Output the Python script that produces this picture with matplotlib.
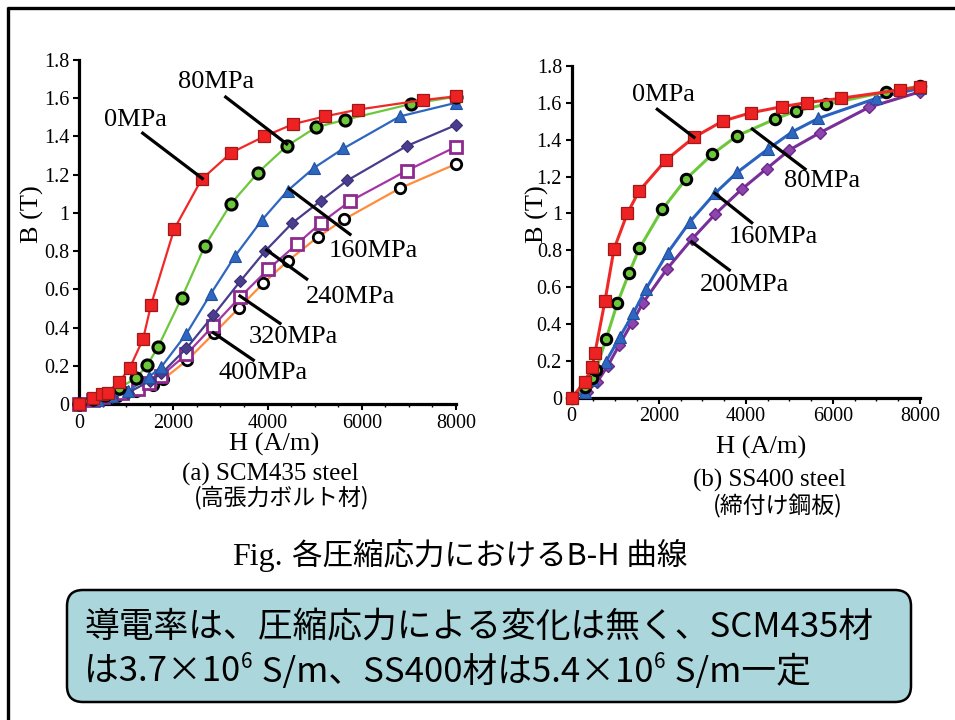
import matplotlib
matplotlib.use("Agg")
import matplotlib.pyplot as plt
from matplotlib.patches import FancyBboxPatch
from matplotlib.ticker import FuncFormatter, MultipleLocator

# ---------------- data: (a) SCM435 steel ----------------
a_h_0 = [0, 300, 490, 615, 850, 1080, 1360, 1530, 2020, 2600, 3230, 3930, 4550, 5220, 5910, 7290, 8000]
a_b_0 = [0, 0.03, 0.05, 0.06, 0.115, 0.19, 0.34, 0.52, 0.915, 1.175, 1.315, 1.40, 1.465, 1.505, 1.54, 1.59, 1.61]
a_h_80 = [0, 300, 550, 850, 1210, 1450, 1680, 2180, 2670, 3225, 3800, 4410, 5030, 5645, 7045, 8000]
a_b_80 = [0, 0.025, 0.045, 0.085, 0.134, 0.204, 0.30, 0.556, 0.827, 1.048, 1.211, 1.350, 1.448, 1.487, 1.57, 1.608]
a_h_160 = [0, 400, 700, 1050, 1490, 1750, 2270, 2800, 3310, 3880, 4430, 4990, 5610, 6810, 8000]
a_b_160 = [0, 0.02, 0.04, 0.07, 0.143, 0.195, 0.364, 0.578, 0.774, 0.962, 1.117, 1.236, 1.337, 1.505, 1.576]
a_h_240 = [0, 400, 700, 1050, 1500, 1750, 2280, 2850, 3420, 3950, 4530, 5135, 5695, 6955, 8000]
a_b_240 = [0, 0.02, 0.035, 0.06, 0.12, 0.16, 0.291, 0.464, 0.642, 0.80, 0.948, 1.064, 1.17, 1.35, 1.46]
a_h_320 = [0, 300, 515, 620, 920, 1260, 1490, 1740, 2280, 2850, 3420, 4020, 4630, 5135, 5750, 6955, 8000]
a_b_320 = [0, 0.02, 0.035, 0.045, 0.06, 0.078, 0.11, 0.146, 0.26, 0.41, 0.56, 0.706, 0.838, 0.948, 1.061, 1.221, 1.346]
a_h_400 = [0, 400, 800, 1200, 1560, 1790, 2300, 2865, 3400, 3910, 4440, 5080, 5630, 6810, 8000]
a_b_400 = [0, 0.02, 0.04, 0.07, 0.10, 0.13, 0.23, 0.37, 0.504, 0.632, 0.75, 0.876, 0.967, 1.129, 1.256]

# ---------------- data: (b) SS400 steel ----------------
b_h_0 = [0, 306, 473, 535, 765, 972, 1277, 1546, 2166, 2809, 3468, 4111, 4822, 5397, 6185, 7540, 8000]
b_b_0 = [0, 0.087, 0.168, 0.244, 0.526, 0.807, 1.0, 1.121, 1.29, 1.413, 1.501, 1.546, 1.579, 1.601, 1.625, 1.67, 1.687]
b_h_80 = [0, 306, 459, 558, 788, 1047, 1316, 1553, 2081, 2618, 3229, 3789, 4669, 5151, 5833, 7229, 8000]
b_b_80 = [0, 0.06, 0.105, 0.15, 0.317, 0.512, 0.675, 0.81, 1.022, 1.185, 1.321, 1.42, 1.512, 1.556, 1.592, 1.66, 1.69]
b_h_160 = [0, 306, 497, 788, 1110, 1416, 1700, 2205, 2717, 3291, 3803, 4501, 5068, 5666, 7000, 8000]
b_b_160 = [0, 0.033, 0.096, 0.196, 0.331, 0.458, 0.588, 0.787, 0.955, 1.109, 1.223, 1.348, 1.443, 1.516, 1.625, 1.679]
b_h_200 = [0, 344, 589, 826, 1093, 1378, 1631, 2182, 2756, 3291, 3904, 4478, 4999, 5702, 6829, 8000]
b_b_200 = [0, 0.033, 0.087, 0.172, 0.286, 0.404, 0.512, 0.697, 0.859, 0.995, 1.131, 1.243, 1.344, 1.438, 1.576, 1.660]

# annotation labels (text, text position, leader line start, leader line end) in data units
a_labels = ["0MPa", "80MPa", "160MPa", "240MPa", "320MPa", "400MPa"]
a_label_xy = [(1188, 1.487), (2907, 1.687), (6245, 0.801), (5751, 0.562), (4548, 0.352), (3911, 0.161)]
a_lead_from = [(1352, 1.417), (3113, 1.606), (5751, 0.888), (4832, 0.654), (4265, 0.422), (3699, 0.23)]
a_lead_to = [(2617, 1.18), (4407, 1.361), (4463, 1.126), (3983, 0.806), (3416, 0.565), (2850, 0.373)]
b_labels = ["0MPa", "80MPa", "160MPa", "200MPa"]
b_label_xy = [(2104, 1.642), (5742, 1.176), (4630, 0.874), (3958, 0.611)]
b_lead_from = [(1966, 1.565), (5359, 1.241), (4134, 0.95), (3620, 0.693)]
b_lead_to = [(2809, 1.413), (4148, 1.458), (3291, 1.109), (2756, 0.846)]

x_ticks = [0, 2000, 4000, 6000, 8000]
y_ticks = [0, 0.2, 0.4, 0.6, 0.8, 1.0, 1.2, 1.4, 1.6, 1.8]

box_line1 = "導電率は、圧縮応力による変化は無く、SCM435材"
# second line as (text, is_superscript) pieces
box_line2 = [("は3.7×10", False), ("6", True), (" S/m、SS400材は5.4×10", False), ("6", True), (" S/m一定", False)]

SERIF = "Liberation Serif"
JP = ["Noto Sans CJK JP", "DejaVu Sans"]

W, H = 955, 720
fig = plt.figure(figsize=(W / 100, H / 100), dpi=100)
fig.patch.set_facecolor("white")

# overlay in pixel units for figure-level drawing
ov = fig.add_axes([0, 0, 1, 1], zorder=0)
ov.set_xlim(0, W)
ov.set_ylim(H, 0)
ov.axis("off")
ov.patch.set_alpha(0)


def style_axes(ax):
    ax.set_xlim(0, 8000)
    ax.set_ylim(0, 1.8)
    for s in ["top", "right"]:
        ax.spines[s].set_visible(False)
    for s in ["left", "bottom"]:
        ax.spines[s].set_linewidth(2.3)
    ax.set_xticks(x_ticks)
    ax.set_yticks(y_ticks)
    ax.xaxis.set_minor_locator(MultipleLocator(500))
    ax.yaxis.set_major_formatter(FuncFormatter(lambda v, p: "%g" % round(v, 1)))
    ax.tick_params(axis="both", which="major", direction="out", length=4, width=1.5,
                   labelsize=14.5, pad=3)
    ax.tick_params(axis="x", which="minor", direction="out", length=2.5, width=1)
    for lab in ax.get_xticklabels() + ax.get_yticklabels():
        lab.set_fontfamily(SERIF)
    ax.patch.set_alpha(0)


axL = fig.add_axes([79 / W, 1 - 404 / H, 377 / W, 344 / H], zorder=2)
axR = fig.add_axes([571.7 / W, 1 - 397.7 / H, 348.3 / W, 331.7 / H], zorder=2)
style_axes(axL)
style_axes(axR)

# ---- left chart series ----
kw = dict(clip_on=False, zorder=3)
axL.plot(a_h_400, a_b_400, color="#FF8C3A", lw=1.6, marker="o", ms=7.5, mfc="white", mec="black", mew=2.0, **kw)
axL.plot(a_h_320, a_b_320, color="#A535A5", lw=1.6, marker="s", ms=8, mfc="white", mec="#8E2A8E", mew=2.0, **kw)
axL.plot(a_h_240, a_b_240, color="#483C8C", lw=1.6, marker="D", ms=6.5, mfc="#4A3D8E", mec="#3A2F75", mew=0.8, **kw)
axL.plot(a_h_160, a_b_160, color="#2E66C0", lw=1.6, marker="^", ms=8, mfc="#2E66C0", mec="#2050A0", mew=0.8, **kw)
axL.plot(a_h_80, a_b_80, color="#6CC83A", lw=1.6, marker="o", ms=8, mfc="#6CC83A", mec="black", mew=2.2, **kw)
axL.plot(a_h_0, a_b_0, color="#F02828", lw=1.6, marker="s", ms=8, mfc="#EE2222", mec="#A01818", mew=0.9, **kw)

for t, xy, p0, p1 in zip(a_labels, a_label_xy, a_lead_from, a_lead_to):
    axL.plot([p0[0], p1[0]], [p0[1], p1[1]], color="black", lw=2.3, zorder=4, clip_on=False)
    axL.text(xy[0], xy[1], t, fontsize=19, family=SERIF, ha="center", va="center", zorder=5)

# ---- right chart series ----
axR.plot(b_h_200, b_b_200, color="#7A2E9A", lw=2.2, marker="D", ms=6.5, mfc="#8E44AD", mec="#6A2888", mew=1.0, **kw)
axR.plot(b_h_160, b_b_160, color="#2A62C0", lw=2.2, marker="^", ms=8, mfc="#2E66C0", mec="#2050A0", mew=0.8, **kw)
axR.plot(b_h_80, b_b_80, color="#6CC83A", lw=2.2, marker="o", ms=7.5, mfc="#6CC83A", mec="black", mew=2.2, **kw)
axR.plot(b_h_0, b_b_0, color="#F02828", lw=2.2, marker="s", ms=8, mfc="#EE2222", mec="#A01818", mew=0.9, **kw)

for t, xy, p0, p1 in zip(b_labels, b_label_xy, b_lead_from, b_lead_to):
    axR.plot([p0[0], p1[0]], [p0[1], p1[1]], color="black", lw=2.3, zorder=4, clip_on=False)
    axR.text(xy[0], xy[1], t, fontsize=19, family=SERIF, ha="center", va="center", zorder=5)

# ---- axis labels and captions (pixel coordinates) ----
ov.text(32, 214, "B (T)", rotation=90, fontsize=19, family=SERIF, ha="center", va="center")
ov.text(537, 214, "B (T)", rotation=90, fontsize=19, family=SERIF, ha="center", va="center")
ov.text(274, 444, "H (A/m)", fontsize=19, family=SERIF, ha="center", va="center")
ov.text(761, 447, "H (A/m)", fontsize=19, family=SERIF, ha="center", va="center")
ov.text(270, 474, "(a) SCM435 steel", fontsize=18, family=SERIF, ha="center", va="center")
ov.text(769, 480, "(b) SS400 steel", fontsize=18, family=SERIF, ha="center", va="center")
ov.text(282, 498, "(高張力ボルト材)", fontsize=16.5, family=JP, ha="center", va="center")
ov.text(778, 506, "(締付け鋼板)", fontsize=16.5, family=JP, ha="center", va="center")

ov.text(283, 558, "Fig.", fontsize=23, family=SERIF, ha="right", va="center")
ov.text(292, 556, "各圧縮応力におけるB-H 曲線", fontsize=22, family=JP, ha="left", va="center")

# ---- highlighted box ----
box = FancyBboxPatch((67, 590), 844, 112, boxstyle="round,pad=0,rounding_size=16",
                     fc="#ABD6DB", ec="black", lw=1.8, zorder=1)
ov.add_patch(box)
ov.text(84, 628, box_line1, fontsize=25, family=JP, ha="left", va="center", zorder=2)

renderer = fig.canvas.get_renderer()
xcur = 84
for seg, sup in box_line2:
    if sup:
        t = ov.text(xcur + 1, 662, seg, fontsize=15, family=JP, ha="left", va="center", zorder=2)
    else:
        t = ov.text(xcur, 672, seg, fontsize=25, family=JP, ha="left", va="center", zorder=2)
    bb = t.get_window_extent(renderer=renderer)
    xcur = xcur + bb.width + (2 if sup else 0)

# ---- slide frame ----
ov.plot([7, W], [8, 8], color="black", lw=2.4, solid_capstyle="butt")
ov.plot([8, 8], [7, H], color="black", lw=2.4, solid_capstyle="butt")

fig.savefig("out.png", dpi=100)
